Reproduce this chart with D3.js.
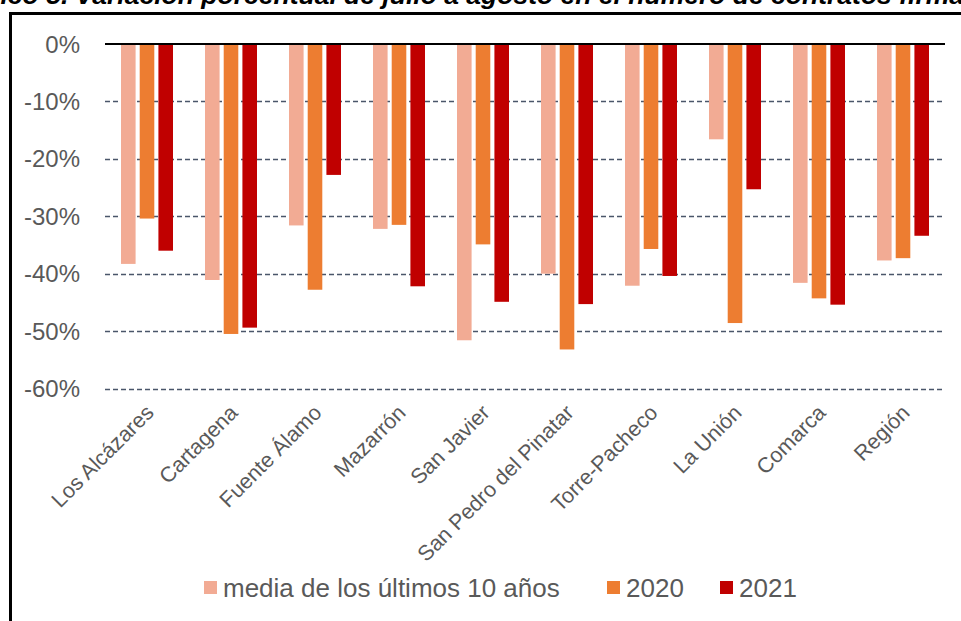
<!DOCTYPE html>
<html>
<head>
<meta charset="utf-8">
<script src="https://cdn.jsdelivr.net/npm/d3@7"></script>
<style>
  html, body { margin: 0; padding: 0; background: #fff; overflow: hidden; }
  svg { display: block; font-family: "Liberation Sans", Arial, sans-serif; }
</style>
</head>
<body>
<svg id="chart" width="961" height="621"></svg>
<script>
const categories = ["Los Alcázares", "Cartagena", "Fuente Álamo", "Mazarrón", "San Javier",
  "San Pedro del Pinatar", "Torre-Pacheco", "La Unión", "Comarca", "Región"];
const seriesNames = ["media de los últimos 10 años", "2020", "2021"];
const media10 = [-38.3, -41.1, -31.6, -32.2, -51.6, -40.0, -42.1, -16.6, -41.6, -37.7];
const y2020   = [-30.4, -50.5, -42.8, -31.5, -34.9, -53.2, -35.7, -48.6, -44.3, -37.3];
const y2021   = [-36.0, -49.4, -22.8, -42.2, -44.9, -45.3, -40.4, -25.3, -45.4, -33.4];
const yTicks = [0, -10, -20, -30, -40, -50, -60];
const titleText = "Gráfico 5. Variación porcentual de julio a agosto en el número de contratos firmados";

const seriesValues = [media10, y2020, y2021];
const colors = ["#F2AB94", "#ED7D31", "#C00000"];

const svg = d3.select("#chart");

// title (partially clipped at top, as in the reference)
svg.append("text")
  .attr("x", -54).attr("y", 4)
  .attr("font-size", 26.5).attr("font-weight", "bold").attr("font-style", "italic")
  .attr("fill", "#000")
  .text(titleText);

// frame
svg.append("rect")
  .attr("x", 10.5).attr("y", 13.5).attr("width", 1000).attr("height", 700)
  .attr("fill", "none").attr("stroke", "#000").attr("stroke-width", 3);

const x0 = d3.scaleBand().domain(categories).range([105, 945]);
const x1 = d3.scaleBand().domain(seriesNames).range([16, 68]).paddingInner(0.22);
const y = d3.scaleLinear().domain([-60, 0]).range([388.5, 44]);

// gridlines
svg.append("g").selectAll("line")
  .data(yTicks.filter(d => d !== 0))
  .join("line")
  .attr("x1", 105).attr("x2", 945)
  .attr("y1", d => Math.round(y(d)) + 0.5).attr("y2", d => Math.round(y(d)) + 0.5)
  .attr("stroke", "#4A566A").attr("stroke-width", 1.7)
  .attr("stroke-dasharray", "5,3");

// y labels
svg.append("g").selectAll("text")
  .data(yTicks)
  .join("text")
  .attr("x", 80).attr("y", d => y(d))
  .attr("dy", "0.36em")
  .attr("text-anchor", "end")
  .attr("font-size", 24).attr("fill", "#595959")
  .text(d => d + "%");

// bars
const groups = svg.append("g").selectAll("g")
  .data(categories)
  .join("g")
  .attr("transform", d => `translate(${x0(d)},0)`);

groups.selectAll("rect")
  .data((c, i) => seriesNames.map((s, k) => ({ s, v: seriesValues[k][i], k })))
  .join("rect")
  .attr("x", d => x1(d.s))
  .attr("width", x1.bandwidth())
  .attr("y", y(0))
  .attr("height", d => y(d.v) - y(0))
  .attr("fill", d => colors[d.k]);

// zero line
svg.append("line")
  .attr("x1", 105).attr("x2", 945)
  .attr("y1", y(0)).attr("y2", y(0))
  .attr("stroke", "#000").attr("stroke-width", 2);

// x labels
svg.append("g").selectAll("text")
  .data(categories)
  .join("text")
  .attr("transform", d => `translate(${x0(d) + x0.bandwidth() / 2 + 8},414) rotate(-45)`)
  .attr("text-anchor", "end")
  .attr("font-size", 21.5).attr("fill", "#595959")
  .text(d => d);

// legend
const legendItems = [
  { name: seriesNames[0], x: 204 },
  { name: seriesNames[1], x: 607 },
  { name: seriesNames[2], x: 720 }
];
const lg = svg.append("g").selectAll("g")
  .data(legendItems)
  .join("g")
  .attr("transform", d => `translate(${d.x},588)`);
lg.append("rect")
  .attr("x", 0).attr("y", -7).attr("width", 13).attr("height", 13)
  .attr("fill", (d, i) => colors[i]);
lg.append("text")
  .attr("x", 19).attr("y", 0).attr("dy", "0.36em")
  .attr("font-size", 26).attr("fill", "#595959")
  .text(d => d.name);
</script>
</body>
</html>
